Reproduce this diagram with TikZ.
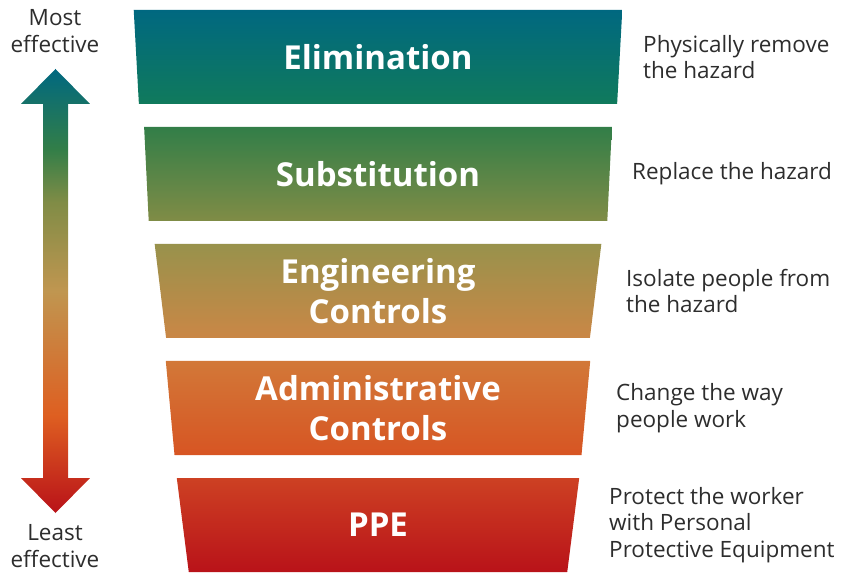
\documentclass[tikz,border=0pt]{standalone}
\usepackage{fontspec}
\setmainfont{Open Sans}
\usetikzlibrary{shapes.geometric}

\definecolor{elitop}{RGB}{0,104,128}
\definecolor{elimid}{RGB}{0,112,112}
\definecolor{elibot}{RGB}{16,122,92}
\definecolor{subtop}{RGB}{50,126,72}
\definecolor{submid}{RGB}{78,135,66}
\definecolor{subbot}{RGB}{128,140,70}
\definecolor{engtop}{RGB}{152,146,76}
\definecolor{engmid}{RGB}{192,150,80}
\definecolor{engbot}{RGB}{202,135,70}
\definecolor{admtop}{RGB}{210,120,56}
\definecolor{admmid}{RGB}{222,95,33}
\definecolor{admbot}{RGB}{215,85,35}
\definecolor{ppetop}{RGB}{205,65,35}
\definecolor{ppemid}{RGB}{196,42,30}
\definecolor{ppebot}{RGB}{185,18,25}
\definecolor{hinttext}{RGB}{45,45,45}

\pgfdeclareverticalshading{effect}{100bp}{color(0bp)=(ppebot); color(25bp)=(ppebot);
  color(36bp)=(admmid); color(50bp)=(engmid); color(60bp)=(subbot); color(66bp)=(subtop);
  color(75bp)=(elitop); color(100bp)=(elitop)}

\tikzset{
  level/.style={trapezium, trapezium angle=85.4, shape border rotate=180,
    trapezium stretches=true, minimum height=94pt, inner sep=0pt, draw=none,
    shading=axis, text=white, align=center,
    font=\bfseries\fontsize{33}{40}\selectfont},
  hint/.style={anchor=west, align=left, text=hinttext, inner sep=0pt,
    font=\fontsize{22.5}{26.5}\selectfont},
  rank/.style={align=center, text=hinttext, inner sep=0pt,
    font=\fontsize{22.5}{27}\selectfont},
}

\begin{document}
\begin{tikzpicture}[x=1pt,y=1pt]
	\useasboundingbox (0,0) rectangle (843,576);
	%\draw[help lines] (0,0) grid[step=50] (843,576);
	% levels of control
	\node[level, minimum width=490pt, top color=elitop, middle color=elimid, bottom color=elibot] (elim) at (378,519) {Elimination};
	\node[level, minimum width=469pt, top color=subtop, middle color=submid, bottom color=subbot] (subst) at (378,402) {Substitution};
	\node[level, minimum width=448pt, top color=engtop, middle color=engmid, bottom color=engbot] (eng) at (378,285) {Engineering\\Controls};
	\node[level, minimum width=426pt, top color=admtop, middle color=admmid, bottom color=admbot] (admin) at (378,168) {Administrative\\Controls};
	\node[level, minimum width=405pt, top color=ppetop, middle color=ppemid, bottom color=ppebot] (ppe) at (378,51) {PPE};
	% what each one does
	\node[hint] (elimtxt) at (643,519) {Physically remove\\the hazard};
	\node[hint] (substtxt) at (632,402) {Replace the hazard};
	\node[hint] (engtxt) at (626,285) {Isolate people from\\the hazard};
	\node[hint] (admintxt) at (616,168) {Change the way\\people work};
	\node[hint] (ppetxt) at (609,51) {Protect the worker\\with Personal\\Protective Equipment};
	% effectiveness scale
	\node[rank] (most) at (55,545) {Most\\effective};
	\node[rank] (least) at (55,30) {Least\\effective};
	\shade[shading=effect] (55.5,507) -- (90,472) -- (68,472) -- (68,98) -- (90,98)
		-- (55.5,63) -- (21,98) -- (43,98) -- (43,472) -- (21,472) -- cycle;
\end{tikzpicture}
\end{document}
